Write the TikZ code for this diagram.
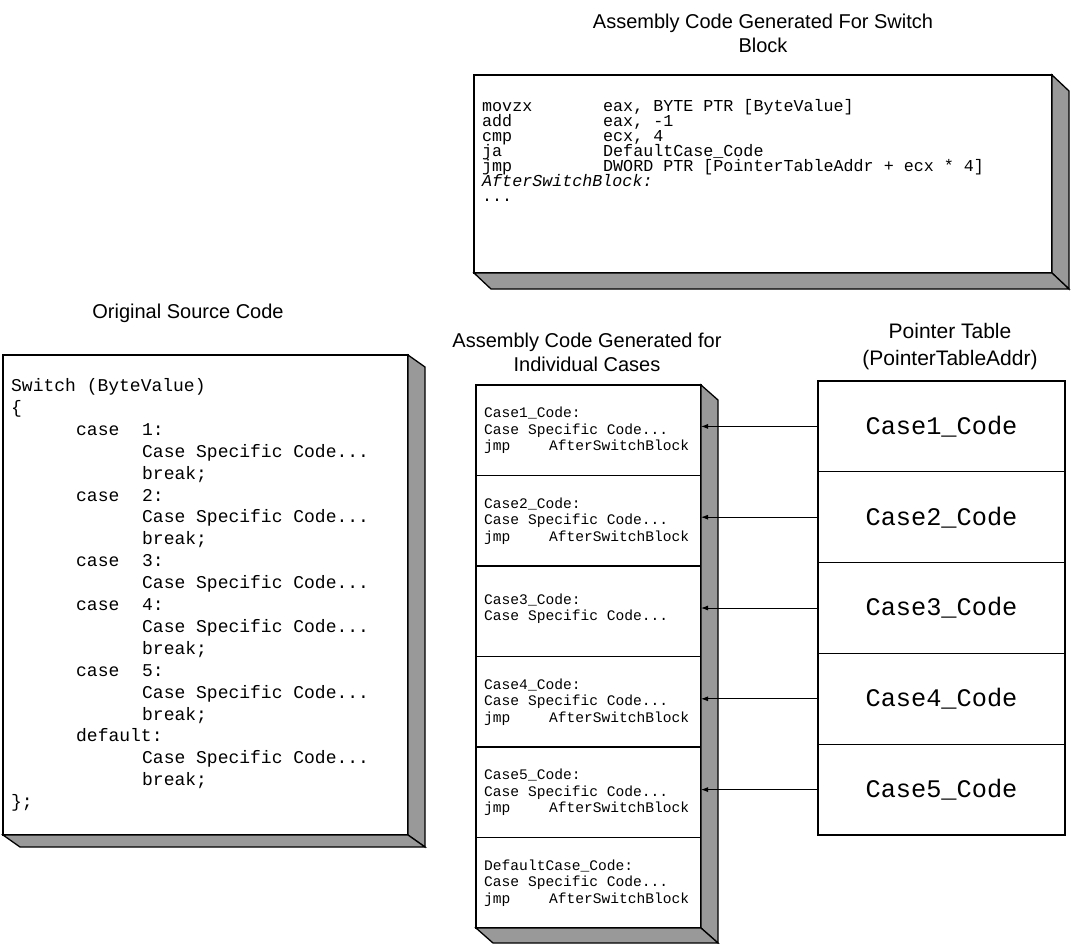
\documentclass[tikz,border=0pt]{standalone}
\usepackage{fontspec}
\setmainfont{Liberation Sans}
\setmonofont{Liberation Mono}
\usetikzlibrary{arrows.meta}
\definecolor{shadowgray}{HTML}{999999}
\newcommand\colA[1]{\makebox[121pt][l]{#1}}
\begin{document}
\setlength{\lineskiplimit}{-100pt}
\setlength{\lineskip}{0pt}
\begin{tikzpicture}[x=1pt,y=-1pt,
  box/.style={draw=black, line width=1.3pt, fill=white, inner sep=0pt, outer sep=0pt},
  shade/.style={draw=black, line width=1.3pt, fill=shadowgray, line join=miter},
  title/.style={font=\fontsize{20}{24}\selectfont, align=center, inner sep=0pt},
  asmcode/.style={font=\ttfamily\fontsize{16.7}{15}\selectfont, align=left, inner sep=0pt, anchor=base west},
  srccode/.style={font=\ttfamily\fontsize{18}{21.9}\selectfont, align=left, inner sep=0pt, anchor=base west},
  casecode/.style={font=\ttfamily\fontsize{14.6}{16.5}\selectfont, align=left, inner sep=0pt, anchor=base west},
  cell/.style={box, minimum width=225pt, minimum height=90.5pt},
  pcell/.style={box, minimum width=247pt, minimum height=90.8pt, font=\ttfamily\fontsize{25.3}{30}\selectfont},
  ptr/.style={line width=0.9pt, -{Latex[length=7pt,width=5pt]}}
]
\useasboundingbox (0,0) rectangle (1074,943);

% ---------- titles ----------
\node[title] (tasm) at (763,33) {Assembly Code Generated For Switch\\Block};
\node[title] (tsrc) at (188,313) {Original Source Code};
\node[title] (tcase) at (587,352) {Assembly Code Generated for\\Individual Cases};
\node[title, font=\fontsize{21}{27}\selectfont] (tptr) at (950,347) {Pointer Table\\(PointerTableAddr)};

% ---------- switch block box ----------
\node[box, minimum width=578pt, minimum height=198pt] (asm) at (763,174) {};
\draw[shade] (asm.north east) -- ++(17,16) -- ([shift={(17,16)}]asm.south east) -- (asm.south east) -- cycle;
\draw[shade] (asm.south west) -- (asm.south east) -- ([shift={(17,16)}]asm.south east) -- ([shift={(17,16)}]asm.south west) -- cycle;
% anchor = baseline of the last line
\node[asmcode] (asmtext) at (482,201) {\colA{movzx}eax, BYTE PTR [ByteValue]\\
\colA{add}eax, -1\\
\colA{cmp}ecx, 4\\
\colA{ja}DefaultCase\_Code\\
\colA{jmp}DWORD PTR [PointerTableAddr + ecx * 4]\\
\textit{AfterSwitchBlock:}\\
...};

% ---------- source box ----------
\node[box, minimum width=405pt, minimum height=480pt] (src) at (205.5,595) {};
\draw[shade] (src.north east) -- ++(17,12) -- ([shift={(17,12)}]src.south east) -- (src.south east) -- cycle;
\draw[shade] (src.south west) -- (src.south east) -- ([shift={(17,12)}]src.south east) -- ([shift={(17,12)}]src.south west) -- cycle;
\node[srccode] (srctext) at (11,807.6) {Switch (ByteValue)\\
\{\\
\hspace*{65pt}\makebox[66pt][l]{case}1:\\
\hspace*{131pt}Case Specific Code...\\
\hspace*{131pt}break;\\
\hspace*{65pt}\makebox[66pt][l]{case}2:\\
\hspace*{131pt}Case Specific Code...\\
\hspace*{131pt}break;\\
\hspace*{65pt}\makebox[66pt][l]{case}3:\\
\hspace*{131pt}Case Specific Code...\\
\hspace*{65pt}\makebox[66pt][l]{case}4:\\
\hspace*{131pt}Case Specific Code...\\
\hspace*{131pt}break;\\
\hspace*{65pt}\makebox[66pt][l]{case}5:\\
\hspace*{131pt}Case Specific Code...\\
\hspace*{131pt}break;\\
\hspace*{65pt}default:\\
\hspace*{131pt}Case Specific Code...\\
\hspace*{131pt}break;\\
\};};

% ---------- individual cases column ----------
\node[cell] (c1) at (588.5,430.25) {};
\node[cell] (c2) at (588.5,520.75) {};
\node[cell] (c3) at (588.5,611.25) {};
\node[cell] (c4) at (588.5,701.75) {};
\node[cell] (c5) at (588.5,792.25) {};
\node[cell] (c6) at (588.5,882.75) {};
\draw[shade] (c1.north east) -- ++(17,15) -- ([shift={(17,15)}]c6.south east) -- (c6.south east) -- cycle;
\draw[shade] (c6.south west) -- (c6.south east) -- ([shift={(17,15)}]c6.south east) -- ([shift={(17,15)}]c6.south west) -- cycle;
\node[casecode] (k1) at ([shift={(8,65.5)}]c1.north west) {Case1\_Code:\\Case Specific Code...\\jmp\hspace{38.6pt}AfterSwitchBlock};
\node[casecode] (k2) at ([shift={(8,65.5)}]c2.north west) {Case2\_Code:\\Case Specific Code...\\jmp\hspace{38.6pt}AfterSwitchBlock};
\node[casecode] (k3) at ([shift={(8,54.5)}]c3.north west) {Case3\_Code:\\Case Specific Code...};
\node[casecode] (k4) at ([shift={(8,65.5)}]c4.north west) {Case4\_Code:\\Case Specific Code...\\jmp\hspace{38.6pt}AfterSwitchBlock};
\node[casecode] (k5) at ([shift={(8,65.5)}]c5.north west) {Case5\_Code:\\Case Specific Code...\\jmp\hspace{38.6pt}AfterSwitchBlock};
\node[casecode] (k6) at ([shift={(8,65.5)}]c6.north west) {DefaultCase\_Code:\\Case Specific Code...\\jmp\hspace{38.6pt}AfterSwitchBlock};

% ---------- pointer table ----------
\node[pcell] (p1) at (941.5,426.4) {Case1\_Code};
\node[pcell] (p2) at (941.5,517.2) {Case2\_Code};
\node[pcell] (p3) at (941.5,608.0) {Case3\_Code};
\node[pcell] (p4) at (941.5,698.8) {Case4\_Code};
\node[pcell] (p5) at (941.5,789.6) {Case5\_Code};

% ---------- pointers ----------
\draw[ptr] (p1.west) -- (p1.west -| c1.east);
\draw[ptr] (p2.west) -- (p2.west -| c2.east);
\draw[ptr] (p3.west) -- (p3.west -| c3.east);
\draw[ptr] (p4.west) -- (p4.west -| c4.east);
\draw[ptr] (p5.west) -- (p5.west -| c5.east);
\end{tikzpicture}
\end{document}
